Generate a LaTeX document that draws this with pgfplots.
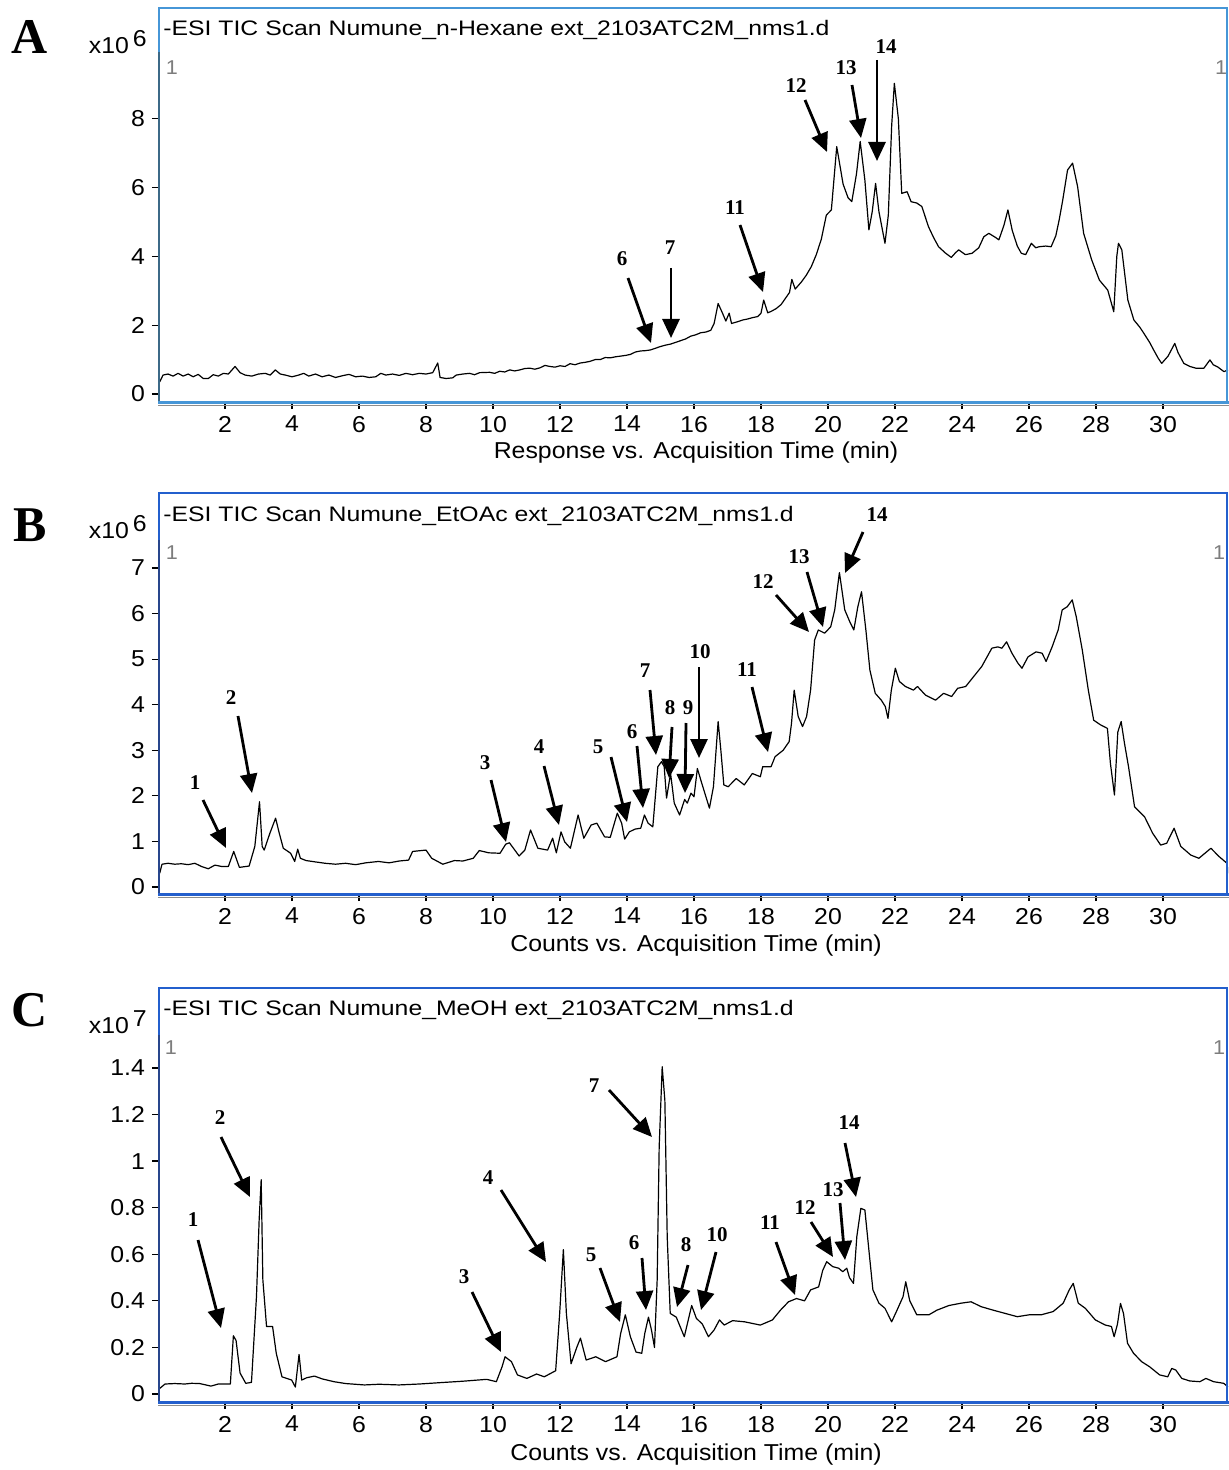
\documentclass[border=0pt]{standalone}
\usepackage{pgfplots}
\pgfplotsset{compat=1.18}
\usetikzlibrary{arrows.meta}
\usepackage{fontspec}
\setmainfont{Liberation Sans}
\newfontfamily\tickfont[FakeStretch=1.08]{Liberation Sans}
\newfontfamily\titlefont[FakeStretch=1.18]{Liberation Sans}
\newfontfamily\annfont{Liberation Serif}

\definecolor{frameA}{RGB}{70,150,215}
\definecolor{axisA}{RGB}{60,105,135}
\definecolor{frameB}{RGB}{35,95,205}
\definecolor{axisB}{RGB}{40,70,140}
\definecolor{grayone}{RGB}{125,125,125}

\pgfplotsset{
 tic/.style={
   scale only axis, xmin=0, xmax=31.94, width=535pt,
   axis line style={draw=none},
   tick pos=left, tick align=outside,
   major tick length=3pt,
   tick style={black, line width=0.6pt},
   xtick={2,4,...,30},
   xticklabels={2,4,6,8,10,12,14,16,18,20,22,24,26,28,30},
   ticklabel style={font=\tickfont\fontsize{11.5}{13}\selectfont},
 },
 trace/.style={black, line width=0.6pt, mark=none, line join=round},
}
\tikzset{
 ann/.style={-{Triangle[length=9.5pt,width=8.5pt]}, line width=1.4pt},
 lab/.style={font=\annfont\bfseries\fontsize{10.5}{12}\selectfont, inner sep=0pt},
 ttl/.style={font=\titlefont\fontsize{10.5}{12}\selectfont, inner sep=0pt, anchor=west},
 xl/.style={font=\tickfont\fontsize{11.5}{13}\selectfont, inner sep=0pt},
 one/.style={font=\tickfont\fontsize{10}{12}\selectfont, text=grayone, inner sep=0pt},
 pl/.style={font=\annfont\bfseries\fontsize{25}{28}\selectfont, inner sep=0pt},
}

\begin{document}
\begin{tikzpicture}
\path[use as bounding box] (0,0) rectangle (614.5pt,-735pt);

% ---------------- Panel A ----------------
\begin{axis}[tic, at={(79pt,-201.5pt)}, anchor=south west,
  height=197.5pt, ymin=-0.262, ymax=11.22,
  ytick={0,2,4,6,8}, yticklabels={0,2,4,6,8}]
\addplot[trace] coordinates {
(0.05,0.35)(0.15,0.55)(0.3,0.58)(0.45,0.52)(0.6,0.60)(0.75,0.52)(0.9,0.58)(1.05,0.50)
(1.2,0.57)(1.35,0.45)(1.5,0.45)(1.65,0.56)(1.8,0.52)(1.95,0.60)(2.1,0.58)(2.3,0.80)
(2.45,0.62)(2.6,0.55)(2.8,0.52)(3.0,0.58)(3.2,0.60)(3.35,0.55)(3.5,0.70)(3.65,0.58)
(3.8,0.55)(4.0,0.50)(4.2,0.55)(4.35,0.60)(4.5,0.52)(4.7,0.58)(4.9,0.50)(5.1,0.55)
(5.3,0.48)(5.5,0.53)(5.7,0.57)(5.9,0.50)(6.1,0.52)(6.3,0.48)(6.5,0.50)(6.65,0.60)
(6.8,0.55)(7.0,0.58)(7.2,0.54)(7.4,0.60)(7.6,0.56)(7.8,0.60)(8.0,0.58)(8.2,0.62)
(8.35,0.90)(8.42,0.48)(8.6,0.45)(8.8,0.47)(8.9,0.55)(9.1,0.58)(9.3,0.60)(9.45,0.56)(9.6,0.62)
(9.9,0.63)(10.05,0.60)(10.2,0.66)(10.35,0.64)(10.5,0.70)(10.65,0.67)(10.8,0.70)(10.95,0.74)(11.1,0.75)
(11.25,0.72)(11.4,0.76)(11.55,0.83)(11.7,0.80)(11.85,0.78)(12.0,0.82)(12.15,0.80)
(12.3,0.88)(12.45,0.85)(12.6,0.90)(12.75,0.92)(12.9,0.95)(13.05,1.00)(13.2,1.00)(13.35,1.06)(13.5,1.05)
(13.65,1.08)(13.8,1.10)(13.95,1.12)(14.1,1.15)(14.25,1.22)(14.4,1.25)(14.55,1.26)
(14.7,1.28)(14.85,1.33)(15.0,1.38)(15.15,1.42)(15.3,1.45)(15.45,1.50)(15.6,1.55)(15.75,1.60)(15.9,1.68)
(16.05,1.72)(16.2,1.78)(16.35,1.80)(16.5,1.85)(16.6,2.05)
(16.72,2.63)(16.85,2.35)(16.95,2.12)(17.05,2.35)(17.12,2.05)(17.3,2.10)(17.45,2.15)(17.6,2.18)(17.75,2.22)(17.9,2.25)
(18.0,2.35)(18.08,2.73)(18.2,2.36)(18.3,2.40)(18.45,2.48)(18.6,2.60)(18.85,2.95)(18.92,3.33)(19.02,3.05)
(19.2,3.25)(19.35,3.45)(19.5,3.70)(19.65,4.05)(19.8,4.50)(19.95,5.20)(20.1,5.35)(20.26,7.19)(20.45,6.10)(20.6,5.70)
(20.71,5.59)(20.85,6.40)(20.96,7.34)(21.1,6.22)(21.22,4.77)(21.32,5.30)(21.42,6.12)(21.52,5.30)
(21.7,4.38)(21.8,5.20)(21.9,7.80)(21.98,9.03)(22.1,8.00)(22.2,5.83)(22.36,5.88)(22.48,5.59)
(22.65,5.55)(22.8,5.45)(23.0,4.86)(23.15,4.55)(23.3,4.28)(23.5,4.10)(23.68,3.97)(23.8,4.10)(23.9,4.19)(24.1,4.05)(24.3,4.09)(24.5,4.25)
(24.65,4.57)(24.8,4.67)(25.0,4.55)(25.1,4.48)(25.25,4.90)(25.37,5.35)(25.5,4.75)(25.65,4.30)(25.77,4.09)
(25.9,4.05)(26.07,4.38)(26.2,4.25)(26.3,4.28)(26.5,4.30)(26.66,4.28)(26.8,4.60)(26.9,5.06)(27.0,5.60)(27.15,6.51)
(27.3,6.71)(27.45,6.03)(27.63,4.67)(27.87,3.90)(28.1,3.31)(28.35,3.02)(28.53,2.39)(28.62,4.00)
(28.67,4.38)(28.77,4.19)(28.95,2.73)(29.13,2.15)(29.3,1.95)(29.43,1.76)(29.6,1.50)(29.72,1.28)(29.85,1.05)(29.96,0.89)(30.15,1.10)
(30.35,1.47)(30.45,1.20)(30.62,0.89)(30.8,0.80)(30.98,0.75)(31.22,0.75)(31.4,0.99)(31.5,0.85)(31.64,0.78)
(31.82,0.65)(31.94,0.70)};
\end{axis}

% ---------------- Panel B ----------------
\begin{axis}[tic, at={(79pt,-447.5pt)}, anchor=south west,
  height=201pt, ymin=-0.176, ymax=8.646,
  ytick={0,1,2,3,4,5,6,7}, yticklabels={0,1,2,3,4,5,6,7}]
\addplot[trace] coordinates {
(0.05,0.30)(0.12,0.50)(0.3,0.52)(0.5,0.50)(0.7,0.51)(0.9,0.49)(1.1,0.52)(1.3,0.45)
(1.5,0.40)(1.7,0.48)(1.9,0.45)(2.1,0.45)(2.26,0.78)(2.43,0.43)(2.72,0.46)(2.89,0.89)
(3.03,1.87)(3.11,0.89)(3.17,0.81)(3.34,1.18)(3.51,1.51)(3.62,1.18)(3.74,0.85)(3.96,0.74)
(4.08,0.56)(4.17,0.83)(4.25,0.63)(4.42,0.58)(4.7,0.55)(4.99,0.52)(5.3,0.50)(5.6,0.52)
(5.9,0.49)(6.2,0.53)(6.58,0.56)(6.9,0.53)(7.2,0.57)(7.48,0.59)(7.6,0.78)(8.0,0.81)
(8.17,0.63)(8.5,0.50)(8.85,0.58)(9.1,0.57)(9.41,0.63)(9.59,0.80)(9.87,0.75)(10.21,0.74)
(10.38,0.94)(10.49,0.97)(10.78,0.68)(10.95,0.81)(11.12,1.25)(11.34,0.85)(11.63,0.81)(11.78,1.07)
(11.89,0.75)(12.03,1.21)(12.14,0.99)(12.31,0.85)(12.54,1.58)(12.71,1.07)(12.93,1.36)(13.1,1.40)
(13.33,1.10)(13.5,1.09)(13.71,1.62)(13.84,1.40)(13.93,1.05)(14.07,1.21)(14.24,1.27)(14.41,1.29)
(14.52,1.58)(14.63,1.40)(14.77,1.32)(14.92,2.64)(15.03,2.75)(15.11,2.64)(15.18,1.95)(15.3,2.49)
(15.41,1.84)(15.57,1.58)(15.72,1.92)(15.8,1.84)(15.91,2.06)(16.0,1.98)(16.1,2.60)(16.23,2.28)
(16.46,1.73)(16.58,2.20)(16.72,3.63)(16.8,3.01)(16.89,2.24)(17.02,2.20)(17.26,2.38)(17.5,2.24)
(17.74,2.49)(17.98,2.42)(18.05,2.64)(18.3,2.64)(18.42,2.86)(18.66,3.00)(18.84,3.19)(18.91,3.59)
(18.99,4.32)(19.11,3.74)(19.24,3.52)(19.36,3.74)(19.48,4.32)(19.6,5.42)(19.71,5.64)(19.9,5.57)
(20.08,5.71)(20.2,6.08)(20.34,6.90)(20.5,6.08)(20.65,5.82)(20.77,5.64)(20.89,6.15)(21.0,6.48)
(21.13,5.64)(21.25,4.76)(21.41,4.25)(21.59,4.10)(21.71,3.96)(21.79,3.70)(21.89,4.32)(22.01,4.80)
(22.13,4.51)(22.31,4.40)(22.55,4.32)(22.67,4.40)(22.91,4.21)(23.21,4.10)(23.45,4.25)(23.69,4.18)
(23.87,4.36)(24.11,4.40)(24.35,4.62)(24.59,4.84)(24.89,5.24)(25.07,5.27)(25.19,5.24)(25.33,5.38)
(25.49,5.13)(25.67,4.91)(25.79,4.80)(25.97,5.05)(26.21,5.16)(26.39,5.13)(26.51,4.95)(26.69,5.27)
(26.87,5.64)(26.99,6.08)(27.14,6.15)(27.29,6.30)(27.41,5.93)(27.59,5.20)(27.77,4.32)(27.93,3.66)
(28.13,3.56)(28.34,3.48)(28.43,2.71)(28.55,2.02)(28.65,3.40)(28.75,3.63)(28.85,3.15)(28.97,2.64)
(29.15,1.76)(29.45,1.54)(29.69,1.18)(29.93,0.92)(30.11,0.96)(30.33,1.29)(30.53,0.89)(30.83,0.70)
(31.07,0.63)(31.43,0.85)(31.67,0.67)(31.91,0.52)(31.94,0.30)};
\end{axis}

% ---------------- Panel C ----------------
\begin{axis}[tic, at={(79pt,-701.5pt)}, anchor=south west,
  height=207.5pt, ymin=-0.0386, ymax=1.743,
  ytick={0,0.2,0.4,0.6,0.8,1,1.2,1.4}, yticklabels={0,0.2,0.4,0.6,0.8,1,1.2,1.4}]
\addplot[trace] coordinates {
(0.05,0.024)(0.21,0.043)(0.5,0.045)(0.8,0.043)(1.0,0.046)(1.24,0.045)(1.4,0.040)(1.58,0.034)
(1.8,0.043)(2.0,0.043)(2.16,0.043)(2.25,0.25)(2.33,0.23)(2.45,0.09)(2.62,0.046)(2.79,0.05)
(2.94,0.42)(3.02,0.75)(3.08,0.92)(3.13,0.49)(3.24,0.29)(3.42,0.29)(3.53,0.175)(3.7,0.074)
(3.99,0.06)(4.1,0.03)(4.21,0.17)(4.29,0.06)(4.44,0.07)(4.67,0.077)(4.9,0.065)(5.25,0.053)
(5.6,0.045)(6.16,0.039)(6.6,0.042)(7.19,0.039)(7.8,0.043)(8.44,0.049)(9.1,0.055)(9.81,0.063)
(10.1,0.053)(10.27,0.117)(10.36,0.16)(10.55,0.139)(10.73,0.082)(11.01,0.067)(11.3,0.086)(11.53,0.074)
(11.87,0.10)(11.99,0.346)(12.1,0.62)(12.19,0.346)(12.33,0.13)(12.5,0.20)(12.61,0.24)(12.78,0.146)
(13.07,0.16)(13.36,0.139)(13.7,0.16)(13.81,0.26)(13.95,0.34)(14.1,0.246)(14.27,0.18)(14.44,0.175)
(14.53,0.26)(14.64,0.33)(14.73,0.275)(14.82,0.20)(14.9,0.49)(14.96,1.06)(15.05,1.405)(15.13,1.26)
(15.2,0.675)(15.29,0.346)(15.47,0.33)(15.71,0.246)(15.93,0.38)(16.07,0.325)(16.25,0.30)(16.43,0.246)
(16.6,0.275)(16.76,0.318)(16.9,0.296)(17.15,0.315)(17.51,0.31)(17.98,0.296)(18.34,0.318)(18.58,0.36)
(18.82,0.396)(19.06,0.41)(19.3,0.40)(19.48,0.447)(19.72,0.46)(19.84,0.53)(19.96,0.568)(20.14,0.547)
(20.32,0.54)(20.44,0.525)(20.56,0.54)(20.64,0.50)(20.76,0.475)(20.86,0.676)(20.98,0.797)(21.1,0.79)
(21.22,0.618)(21.34,0.447)(21.52,0.39)(21.7,0.368)(21.9,0.31)(22.06,0.36)(22.24,0.418)(22.32,0.482)
(22.44,0.40)(22.65,0.34)(23.01,0.34)(23.25,0.36)(23.61,0.38)(23.97,0.39)(24.27,0.396)(24.57,0.375)
(24.93,0.36)(25.29,0.346)(25.65,0.332)(26.0,0.34)(26.36,0.34)(26.72,0.354)(27.02,0.39)(27.2,0.447)
(27.32,0.475)(27.47,0.39)(27.68,0.368)(27.98,0.318)(28.28,0.296)(28.46,0.29)(28.54,0.246)(28.64,0.30)
(28.73,0.389)(28.82,0.346)(28.94,0.218)(29.12,0.175)(29.36,0.139)(29.6,0.117)(29.9,0.082)(30.14,0.074)
(30.26,0.11)(30.38,0.103)(30.56,0.067)(30.8,0.056)(31.1,0.053)(31.28,0.067)(31.51,0.053)(31.81,0.046)
(31.94,0.031)};
\end{axis}

% ---------------- overlays in pixel units ----------------
\begin{scope}[x=0.5pt,y=-0.5pt]
% frames A
\draw[frameA, line width=0.8pt] (159,52) -- (159,8) -- (1227,8) -- (1227,403);
\draw[axisA, line width=1.1pt] (159,52) -- (159,403);
\draw[frameA, line width=1.3pt] (158,402.5) -- (1229,402.5);
\draw[black!45, line width=0.7pt] (158,405.5) -- (1229,405.5);
% frames B
\draw[frameB, line width=0.9pt] (159,540) -- (159,493) -- (1227,493) -- (1227,895);
\draw[axisB, line width=1.1pt] (159,540) -- (159,895);
\draw[frameB, line width=1.3pt] (158,894.5) -- (1229,894.5);
\draw[black!45, line width=0.7pt] (158,897.5) -- (1229,897.5);
% frames C
\draw[frameB, line width=0.9pt] (159,1035) -- (159,988) -- (1227,988) -- (1227,1403);
\draw[axisB, line width=1.1pt] (159,1035) -- (159,1403);
\draw[frameB, line width=1.3pt] (158,1402.5) -- (1229,1402.5);
\draw[black!45, line width=0.7pt] (158,1405.5) -- (1229,1405.5);

% panel letters
\node[pl] at (30,37) {A};
\node[pl] at (30,525) {B};
\node[pl] at (30,1010) {C};

% exponents
\node[xl, anchor=east] at (147,42) {x10\,\raisebox{3.5pt}{6}};
\node[xl, anchor=east] at (147,527) {x10\,\raisebox{3.5pt}{6}};
\node[xl, anchor=east] at (147,1022) {x10\,\raisebox{3.5pt}{7}};

% titles
\node[ttl] at (163,30) {-ESI TIC Scan Numune\_n-Hexane ext\_2103ATC2M\_nms1.d};
\node[ttl] at (163,516) {-ESI TIC Scan Numune\_EtOAc ext\_2103ATC2M\_nms1.d};
\node[ttl] at (163,1010) {-ESI TIC Scan Numune\_MeOH ext\_2103ATC2M\_nms1.d};

% gray ones
\node[one] at (172,68) {1};   \node[one] at (1221,68) {1};
\node[one] at (172,553) {1};  \node[one] at (1219,553) {1};
\node[one] at (171,1048) {1}; \node[one] at (1219,1048) {1};

% x labels
\node[xl] at (696,453) {Response vs. Acquisition Time (min)};
\node[xl] at (696,946) {Counts vs. Acquisition Time (min)};
\node[xl] at (696,1455) {Counts vs. Acquisition Time (min)};

% annotations A
\node[lab] at (622,259) {6};  \draw[ann] (628,278) -- (651,343);
\node[lab] at (670,248) {7};  \draw[ann] (671,268) -- (671,338);
\node[lab] at (735,208) {11}; \draw[ann] (740,225) -- (763,292);
\node[lab] at (796,86) {12};  \draw[ann] (805,100) -- (827,152);
\node[lab] at (846,68) {13};  \draw[ann] (852,85) -- (861,138);
\node[lab] at (886,47) {14};  \draw[ann] (877,60) -- (877,161);

% annotations B
\node[lab] at (195,783) {1};  \draw[ann] (203,800) -- (226,848);
\node[lab] at (231,698) {2};  \draw[ann] (238,716) -- (252,793);
\node[lab] at (485,763) {3};  \draw[ann] (491,780) -- (506,842);
\node[lab] at (539,747) {4};  \draw[ann] (544,766) -- (559,825);
\node[lab] at (598,747) {5};  \draw[ann] (611,757) -- (627,822);
\node[lab] at (632,732) {6};  \draw[ann] (637,746) -- (643,808);
\node[lab] at (645,671) {7};  \draw[ann] (650,690) -- (656,755);
\node[lab] at (670,708) {8};  \draw[ann] (672,727) -- (669,778);
\node[lab] at (688,708) {9};  \draw[ann] (686,723) -- (685,793);
\node[lab] at (700,652) {10}; \draw[ann] (699,667) -- (699,758);
\node[lab] at (747,670) {11}; \draw[ann] (752,687) -- (768,752);
\node[lab] at (763,582) {12}; \draw[ann] (776,595) -- (809,632);
\node[lab] at (799,557) {13}; \draw[ann] (807,572) -- (823,627);
\node[lab] at (877,515) {14}; \draw[ann] (863,532) -- (845,573);

% annotations C
\node[lab] at (193,1220) {1};  \draw[ann] (198,1240) -- (221,1328);
\node[lab] at (220,1118) {2};  \draw[ann] (221,1137) -- (250,1197);
\node[lab] at (464,1277) {3};  \draw[ann] (472,1292) -- (501,1352);
\node[lab] at (488,1178) {4};  \draw[ann] (501,1190) -- (546,1262);
\node[lab] at (591,1255) {5};  \draw[ann] (600,1268) -- (620,1322);
\node[lab] at (634,1243) {6};  \draw[ann] (642,1258) -- (646,1310);
\node[lab] at (594,1086) {7};  \draw[ann] (609,1090) -- (652,1137);
\node[lab] at (686,1245) {8};  \draw[ann] (688,1265) -- (677,1307);
\node[lab] at (717,1235) {10}; \draw[ann] (716,1252) -- (701,1310);
\node[lab] at (770,1223) {11}; \draw[ann] (776,1242) -- (795,1295);
\node[lab] at (805,1208) {12}; \draw[ann] (811,1222) -- (833,1257);
\node[lab] at (833,1190) {13}; \draw[ann] (840,1203) -- (845,1260);
\node[lab] at (849,1123) {14}; \draw[ann] (845,1143) -- (856,1197);
\end{scope}
\end{tikzpicture}
\end{document}
